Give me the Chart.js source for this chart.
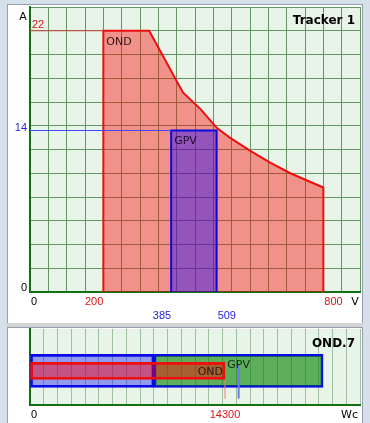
<!DOCTYPE html>
<html>
<head>
<script src="https://cdn.jsdelivr.net/npm/chart.js@4.4.0/dist/chart.umd.min.js"></script>
<style>
    body {
        margin: 0;
        width: 370px;
        height: 423px;
        overflow: hidden;
        background-color: rgb(214, 224, 235);
        position: relative;
    }
    .panel {
        position: absolute;
        background: #fff;
        border: 1px solid rgb(150, 160, 172);
    }
    canvas { position: absolute; }
</style>
<title>Tracker 1</title>
</head>
<body>

<div class="panel" style="left:7px; top:4px; width:354px; height:318px;"></div>
<div style="position:absolute; left:7px; top:323px; width:356px; height:4px; background:rgb(212,212,212);"></div>
<div class="panel" style="left:7px; top:327px; width:354px; height:100px;"></div>

<canvas id="topChart" style="left:9px; top:6px;" width="352" height="317"></canvas>
<canvas id="bottomChart" style="left:9px; top:328px;" width="352" height="95"></canvas>

<script>
    // top chart: OND operating window and GPV array window (V / A)
    var ondVolt = [200, 200, 325, 417, 465, 510, 545, 600, 655, 710, 800, 800];
    var ondAmp  = [0, 22, 22, 16.8, 15.4, 13.8, 13.0, 11.9, 10.9, 10.0, 8.8, 0];
    var gpvVolt = [385, 385, 509, 509];
    var gpvAmp  = [0, 13.6, 13.6, 0];
    var ondMaxAmp = 22;
    var gpvMaxAmp = 13.6;
    var voltMax = 900;
    var ampMax = 24;

    // bottom chart: power (Wc)
    var gpvPowerLow  = [0, 9090];
    var gpvPowerHigh = [9090, 21490];
    var ondPower     = [0, 14300];
    var gpvMarker    = 15300;
    var powerMax     = 24200;
    var barRow       = 0.44;

    var plotBg = 'rgb(232, 244, 231)';
    var axisGreen = 'rgb(20, 110, 20)';
    var numFont = '11px "Liberation Sans", Arial, sans-serif';
    var txtFont = '11px "DejaVu Sans", Verdana, sans-serif';
    var boldFont = 'bold 12px "DejaVu Sans", Verdana, sans-serif';

    function pts(xs, ys) {
        var out = [];
        for (var i = 0; i < xs.length; i++) out.push({x: xs[i], y: ys[i]});
        return out;
    }

    var bgPlugin = {
        id: 'bg',
        beforeDraw: function (chart) {
            var a = chart.chartArea, c = chart.ctx;
            c.save();
            c.fillStyle = plotBg;
            c.fillRect(a.left, a.top, a.right - a.left, a.bottom - a.top);
            c.restore();
        }
    };

    function txt(c, s, x, y, color, font, align) {
        c.font = font;
        c.fillStyle = color;
        c.textAlign = align;
        c.textBaseline = 'alphabetic';
        c.fillText(s, x, y);
    }

    var topLabels = {
        id: 'topLabels',
        afterDatasetsDraw: function (chart) {
            var c = chart.ctx, x = chart.scales.x, y = chart.scales.y;
            c.save();
            var row1 = y.bottom + 13, row2 = y.bottom + 27;
            txt(c, 'A', x.left - 7, y.top + 13, '#000', txtFont, 'center');
            txt(c, String(ondMaxAmp), x.left + 2, y.getPixelForValue(ondMaxAmp) - 3, 'rgb(220,20,20)', numFont, 'left');
            txt(c, String(Math.round(gpvMaxAmp)), x.left - 3, y.getPixelForValue(gpvMaxAmp), 'rgb(30,30,220)', numFont, 'right');
            txt(c, '0', x.left - 3, y.bottom - 1, '#000', numFont, 'right');
            txt(c, '0', x.left + 1, row1, '#000', numFont, 'left');
            txt(c, String(ondVolt[0]), x.getPixelForValue(ondVolt[0]), row1, 'rgb(220,20,20)', numFont, 'right');
            txt(c, String(ondVolt[ondVolt.length - 1]), x.getPixelForValue(ondVolt[ondVolt.length - 1]) + 1, row1, 'rgb(220,20,20)', numFont, 'left');
            txt(c, 'V', x.right - 5, row1, '#000', txtFont, 'center');
            txt(c, String(gpvVolt[0]), x.getPixelForValue(gpvVolt[0]), row2, 'rgb(30,30,220)', numFont, 'right');
            txt(c, String(gpvVolt[2]), x.getPixelForValue(gpvVolt[2]) + 1, row2, 'rgb(30,30,220)', numFont, 'left');
            txt(c, 'OND', x.getPixelForValue(ondVolt[0]) + 3, y.getPixelForValue(ondMaxAmp) + 14, 'rgb(40,20,20)', txtFont, 'left');
            txt(c, 'GPV', x.getPixelForValue(gpvVolt[0]) + 3, y.getPixelForValue(gpvMaxAmp) + 13, 'rgb(30,10,50)', txtFont, 'left');
            txt(c, 'Tracker 1', x.right - 5, y.top + 17, '#000', boldFont, 'right');
            c.restore();
        }
    };

    var bottomLabels = {
        id: 'bottomLabels',
        afterDatasetsDraw: function (chart) {
            var c = chart.ctx, x = chart.scales.x, y = chart.scales.y;
            c.save();
            var row = y.bottom + 13, mid = y.getPixelForValue(barRow);
            txt(c, 'OND.7', x.right - 5, y.top + 18, '#000', boldFont, 'right');
            txt(c, 'OND', x.getPixelForValue(ondPower[1]) - 2, mid + 4, 'rgb(40,20,20)', txtFont, 'right');
            txt(c, 'GPV', x.getPixelForValue(gpvMarker), mid - 3, 'rgb(20,40,20)', txtFont, 'center');
            txt(c, String(ondPower[1]), x.getPixelForValue(ondPower[1]), row, 'rgb(220,20,20)', numFont, 'center');
            txt(c, '0', x.left + 1, row, '#000', numFont, 'left');
            txt(c, 'Wc', x.right - 2, row, '#000', txtFont, 'right');
            c.restore();
        }
    };

    // note: chart.js paints dataset 0 last (on top)
    new Chart(document.getElementById('topChart'), {
        type: 'scatter',
        data: {
            datasets: [
                {
                    data: pts([0, ondVolt[0]], [ondMaxAmp, ondMaxAmp]),
                    showLine: true, borderColor: 'rgb(200,70,60)', borderWidth: 1, pointRadius: 0
                },
                {
                    data: pts([0, gpvVolt[0]], [gpvMaxAmp, gpvMaxAmp]),
                    showLine: true, borderColor: 'rgb(70,70,255)', borderWidth: 1, pointRadius: 0
                },
                {
                    data: pts(gpvVolt, gpvAmp),
                    showLine: true, fill: 'origin',
                    borderColor: 'rgb(10,10,220)', borderWidth: 2,
                    backgroundColor: 'rgba(20,0,255,0.42)', pointRadius: 0
                },
                {
                    data: pts(ondVolt, ondAmp),
                    showLine: true, fill: 'origin',
                    borderColor: 'rgb(235,15,15)', borderWidth: 2,
                    backgroundColor: 'rgba(255,0,0,0.4)', pointRadius: 0
                }
            ]
        },
        options: {
            responsive: false,
            animation: false,
            layout: { padding: { left: 21, right: 1, top: 1, bottom: 31 } },
            plugins: { legend: { display: false }, tooltip: { enabled: false } },
            scales: {
                x: {
                    type: 'linear', min: 0, max: voltMax,
                    ticks: { stepSize: 50, display: false },
                    grid: { color: 'rgb(100,150,100)', drawTicks: false },
                    border: { color: axisGreen, width: 2 }
                },
                y: {
                    type: 'linear', min: 0, max: ampMax,
                    ticks: { stepSize: 2, display: false },
                    grid: { color: 'rgb(100,150,100)', drawTicks: false },
                    border: { color: axisGreen, width: 2 }
                }
            }
        },
        plugins: [bgPlugin, topLabels]
    });

    new Chart(document.getElementById('bottomChart'), {
        type: 'bar',
        data: {
            datasets: [
                {
                    type: 'line',
                    data: [{x: gpvMarker, y: 0}, {x: gpvMarker, y: 0.55}],
                    borderColor: 'rgb(110,120,230)', borderWidth: 2, pointRadius: 0
                },
                {
                    type: 'line',
                    data: [{x: ondPower[1], y: 0}, {x: ondPower[1], y: 0.3}],
                    borderColor: 'rgb(240,120,120)', borderWidth: 1, pointRadius: 0
                },
                {
                    data: [{x: ondPower, y: barRow}],
                    backgroundColor: 'rgba(255,0,0,0.45)', borderColor: 'rgb(235,15,15)',
                    borderWidth: 2, borderSkipped: false, barThickness: 17, grouped: false
                },
                {
                    data: [{x: gpvPowerHigh, y: barRow}],
                    backgroundColor: 'rgba(0,128,0,0.6)', borderColor: 'rgb(10,10,230)',
                    borderWidth: 2, borderSkipped: false, barThickness: 33, grouped: false
                },
                {
                    data: [{x: gpvPowerLow, y: barRow}],
                    backgroundColor: 'rgba(0,0,255,0.37)', borderColor: 'rgb(10,10,230)',
                    borderWidth: 2, borderSkipped: false, barThickness: 33, grouped: false
                }
            ]
        },
        options: {
            indexAxis: 'y',
            responsive: false,
            animation: false,
            layout: { padding: { left: 21, right: 1, top: 1, bottom: 18 } },
            plugins: { legend: { display: false }, tooltip: { enabled: false } },
            scales: {
                x: {
                    type: 'linear', min: 0, max: powerMax,
                    ticks: { stepSize: 1000, display: false },
                    grid: { color: 'rgb(160,190,160)', drawTicks: false },
                    border: { color: axisGreen, width: 2 }
                },
                y: {
                    type: 'linear', min: 0, max: 1,
                    ticks: { display: false },
                    grid: { display: false, drawTicks: false },
                    border: { color: axisGreen, width: 2 }
                }
            }
        },
        plugins: [bgPlugin, bottomLabels]
    });
</script>
</body>
</html>
